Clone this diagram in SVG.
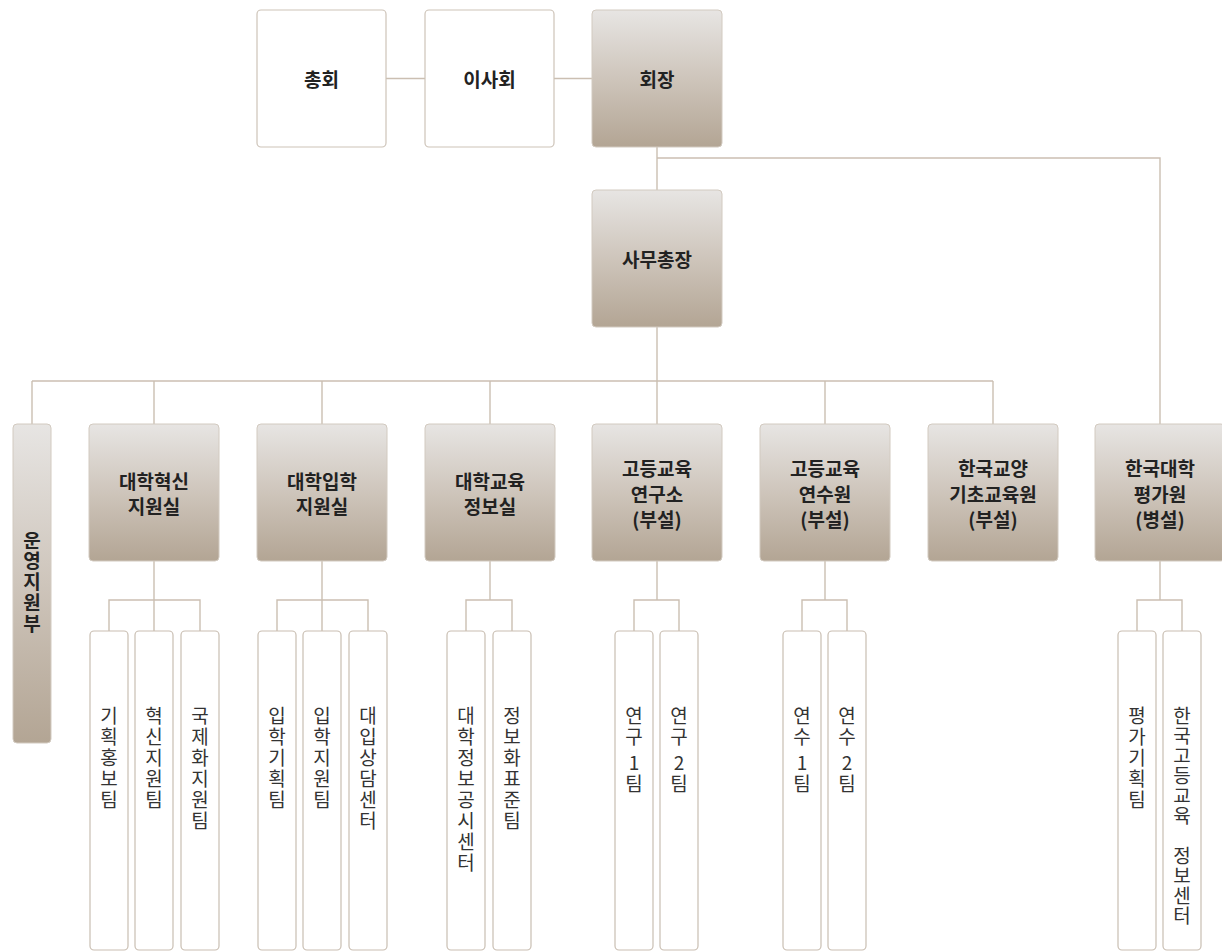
<svg xmlns="http://www.w3.org/2000/svg" width="1222" height="952" viewBox="0 0 1222 952">
<style>
.w{fill:#fff;stroke:#cdc3b8;stroke-width:1.2}
.g{fill:url(#gr);stroke:#d2cac0;stroke-width:1}
.t{fill:#fff;stroke:#c9beb2;stroke-width:1.2}
.lb{font-family:"Noto Sans CJK KR","Noto Sans",sans-serif;font-size:19px;font-weight:700;fill:#222;text-anchor:middle;dominant-baseline:central}
.vb{font-family:"Noto Sans CJK KR","Noto Sans",sans-serif;font-size:19px;font-weight:700;fill:#222;writing-mode:vertical-rl;text-orientation:upright;letter-spacing:1.7px}
.vt{font-family:"Noto Sans CJK KR","Noto Sans",sans-serif;font-size:19px;font-weight:400;fill:#333;writing-mode:vertical-rl;text-orientation:upright;letter-spacing:2px}
.c{fill:none;stroke:#cbbfb2;stroke-width:1.4}
</style>
<defs>
<linearGradient id="gr" x1="0" y1="0" x2="0" y2="1">
<stop offset="0" stop-color="#e7e5e3"/>
<stop offset="0.5" stop-color="#cec5bb"/>
<stop offset="1" stop-color="#b3a594"/>
</linearGradient>
</defs>
<g id="connectors">
<path class="c" d="M386 78.5H425M554 78.5H592M657 147V190M657 158H1160V424M657 327V381M32 381H993M32 381V424M154 381V424M322 381V424M490 381V424M657 381V424M825 381V424M993 381V424"/>
<path class="c" d="M154 561V631M109 631V600H200V631"/>
<path class="c" d="M322 561V631M277 631V600H368V631"/>
<path class="c" d="M490 561V600M466 631V600H512V631"/>
<path class="c" d="M657 561V600M634 631V600H679V631"/>
<path class="c" d="M825 561V600M802 631V600H847V631"/>
<path class="c" d="M1160 561V600M1137 631V600H1182V631"/>
</g>
<g id="n-chonghoe"><rect class="w" x="257" y="10" width="129" height="137" rx="4"/><text class="lb" x="321.5" y="78.5">총회</text></g>
<g id="n-isahoe"><rect class="w" x="425" y="10" width="129" height="137" rx="4"/><text class="lb" x="489.5" y="78.5">이사회</text></g>
<g id="n-hoejang"><rect class="g" x="592" y="10" width="130" height="137" rx="4"/><text class="lb" x="657" y="78.5">회장</text></g>
<g id="n-samuchongjang"><rect class="g" x="592" y="190" width="130" height="137" rx="4"/><text class="lb" x="657" y="258.5">사무총장</text></g>

<g id="n-unyeong"><rect class="g" x="13" y="424" width="38" height="319" rx="4"/><text class="vb" x="32" y="531">운영지원부</text></g>

<g id="n-hyeoksin"><rect class="g" x="89" y="424" width="130" height="137" rx="4"/><text class="lb"><tspan x="154" y="480">대학혁신</tspan><tspan x="154" y="505">지원실</tspan></text></g>
<g id="n-iphak"><rect class="g" x="257" y="424" width="130" height="137" rx="4"/><text class="lb"><tspan x="322" y="480">대학입학</tspan><tspan x="322" y="505">지원실</tspan></text></g>
<g id="n-gyoyuk"><rect class="g" x="425" y="424" width="130" height="137" rx="4"/><text class="lb"><tspan x="490" y="480">대학교육</tspan><tspan x="490" y="505">정보실</tspan></text></g>
<g id="n-yeonguso"><rect class="g" x="592" y="424" width="130" height="137" rx="4"/><text class="lb"><tspan x="657" y="467">고등교육</tspan><tspan x="657" y="492.5">연구소</tspan><tspan x="657" y="518">(부설)</tspan></text></g>
<g id="n-yeonsuwon"><rect class="g" x="760" y="424" width="130" height="137" rx="4"/><text class="lb"><tspan x="825" y="467">고등교육</tspan><tspan x="825" y="492.5">연수원</tspan><tspan x="825" y="518">(부설)</tspan></text></g>
<g id="n-gyoyang"><rect class="g" x="928" y="424" width="130" height="137" rx="4"/><text class="lb"><tspan x="993" y="467">한국교양</tspan><tspan x="993" y="492.5">기초교육원</tspan><tspan x="993" y="518">(부설)</tspan></text></g>
<g id="n-pyeongga"><rect class="g" x="1095" y="424" width="130" height="137" rx="4"/><text class="lb"><tspan x="1160" y="467">한국대학</tspan><tspan x="1160" y="492.5">평가원</tspan><tspan x="1160" y="518">(병설)</tspan></text></g>

<g id="t1"><rect class="t" x="90" y="631" width="38" height="319" rx="4"/><text class="vt" x="109" y="706">기획홍보팀</text></g>
<g id="t2"><rect class="t" x="135" y="631" width="38" height="319" rx="4"/><text class="vt" x="154" y="706">혁신지원팀</text></g>
<g id="t3"><rect class="t" x="181" y="631" width="38" height="319" rx="4"/><text class="vt" x="200" y="706">국제화지원팀</text></g>

<g id="t4"><rect class="t" x="258" y="631" width="38" height="319" rx="4"/><text class="vt" x="277" y="706">입학기획팀</text></g>
<g id="t5"><rect class="t" x="303" y="631" width="38" height="319" rx="4"/><text class="vt" x="322" y="706">입학지원팀</text></g>
<g id="t6"><rect class="t" x="349" y="631" width="38" height="319" rx="4"/><text class="vt" x="368" y="706">대입상담센터</text></g>

<g id="t7"><rect class="t" x="447" y="631" width="38" height="319" rx="4"/><text class="vt" x="466" y="706">대학정보공시센터</text></g>
<g id="t8"><rect class="t" x="493" y="631" width="38" height="319" rx="4"/><text class="vt" x="512" y="706">정보화표준팀</text></g>

<g id="t9"><rect class="t" x="615" y="631" width="38" height="319" rx="4"/><text class="vt" x="634" y="706">연구<tspan dy="5">1팀</tspan></text></g>
<g id="t10"><rect class="t" x="660" y="631" width="38" height="319" rx="4"/><text class="vt" x="679" y="706">연구<tspan dy="5">2팀</tspan></text></g>

<g id="t11"><rect class="t" x="783" y="631" width="38" height="319" rx="4"/><text class="vt" x="802" y="706">연수<tspan dy="5">1팀</tspan></text></g>
<g id="t12"><rect class="t" x="828" y="631" width="38" height="319" rx="4"/><text class="vt" x="847" y="706">연수<tspan dy="5">2팀</tspan></text></g>

<g id="t13"><rect class="t" x="1118" y="631" width="38" height="319" rx="4"/><text class="vt" x="1137" y="706">평가기획팀</text></g>
<g id="t14"><rect class="t" x="1163" y="631" width="38" height="319" rx="4"/><text class="vt" x="1182" y="706" style="letter-spacing:1px">한국고등교육 정보센터</text></g>
</svg>
